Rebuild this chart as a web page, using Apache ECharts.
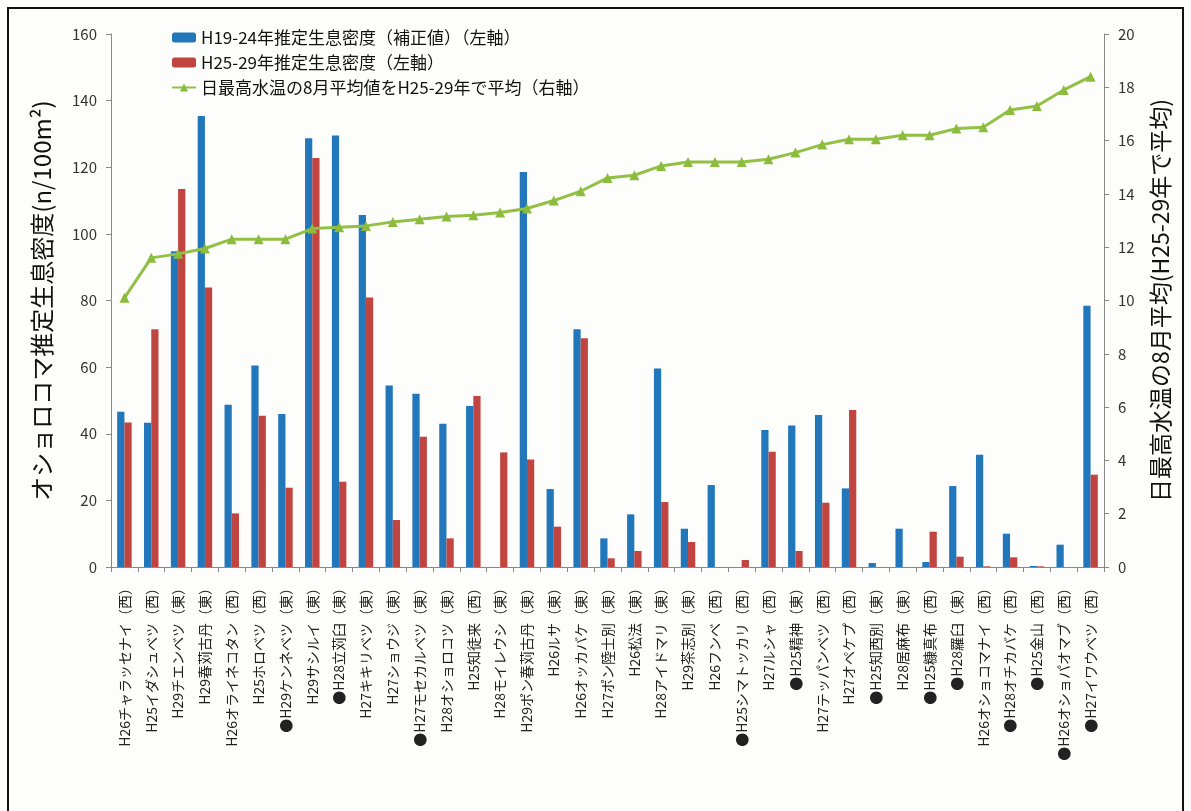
<!DOCTYPE html>
<html><head><meta charset="utf-8">
<script src="https://cdn.jsdelivr.net/npm/echarts@6/dist/echarts.min.js"></script>
<style>html,body{margin:0;padding:0;background:#fff;}#c{width:1191px;height:811px;}</style>
</head><body><div id="c"></div>
<script>
const categories = [
"H26チャラッセナイ（西）","H25イダシュベツ（西）","H29チエンベツ（東）","H29春苅古丹（東）",
"H26オライネコタン（西）","H25ホロベツ（西）","●H29ケンネベツ（東）","H29サシルイ（東）",
"●H28立苅臼（東）","H27キキリベツ（東）","H27ショウジ（東）","●H27モセカルベツ（東）",
"H28オショロコツ（東）","H25知徒来（西）","H28モイレウシ（東）","H29ポン春苅古丹（東）",
"H26ルサ（東）","H26オッカバケ（東）","H27ポン陸士別（東）","H26松法（東）",
"H28アイドマリ（東）","H29茶志別（東）","H26フンベ（西）","●H25シマトッカリ（西）",
"H27ルシャ（西）","●H25精神（東）","H27テッパンベツ（西）","H27オペケプ（西）",
"●H25知西別（東）","H28居麻布（東）","●H25糠真布（西）","●H28羅臼（東）",
"H26オショコマナイ（西）","●H28オチカバケ（西）","●H25金山（西）","●H26オショパオマブ（西）",
"●H27イワウベツ（西）"
];
const density1924 = [46.6,43.3,94.8,135.4,48.7,60.5,45.9,128.7,129.5,105.7,54.5,52.0,43.0,48.3,0,118.6,23.4,71.4,8.6,15.8,59.6,11.5,24.6,0,41.1,42.5,45.6,23.6,1.2,11.5,1.5,24.3,33.7,10.0,0.3,6.7,78.4];
const density2529 = [43.4,71.4,113.5,83.9,16.1,45.4,23.8,122.8,25.6,80.9,14.1,39.1,8.6,51.3,34.4,32.3,12.1,68.7,2.6,4.8,19.5,7.5,0,2.1,34.6,4.8,19.3,47.1,0,0,10.6,3.1,0.2,2.9,0.2,0,27.7];
const waterTemp = [10.1,11.6,11.75,11.95,12.3,12.3,12.3,12.7,12.75,12.8,12.95,13.05,13.15,13.2,13.3,13.45,13.75,14.1,14.6,14.7,15.05,15.2,15.2,15.2,15.3,15.55,15.85,16.05,16.05,16.2,16.2,16.45,16.5,17.15,17.3,17.9,18.4];
const seriesNames = ["H19-24年推定生息密度（補正値）（左軸）","H25-29年推定生息密度（左軸）","日最高水温の8月平均値をH25-29年で平均（右軸）"];
const leftName = "オショロコマ推定生息密度(n/100m²)";
const rightName = "日最高水温の8月平均(H25-29年で平均)";

const FONT = '"Noto Sans CJK JP","Noto Sans",sans-serif';
const chart = echarts.init(document.getElementById('c'));
chart.setOption({
  backgroundColor: '#fdfdfb',
  textStyle: {fontFamily: FONT},
  animation: false,
  graphic: [{type:'rect', shape:{x:8,y:8,width:1175,height:830}, style:{fill:'transparent', stroke:'#111', lineWidth:2}, z:100}],
  legend: {
    orient: 'vertical', left: 166, top: 24, itemGap: 8, itemWidth: 24, itemHeight: 10,
    textStyle: {fontSize: 17, color: '#111', fontFamily: FONT},
    data: seriesNames
  },
  grid: {left: 111, right: 87, top: 34, bottom: 244, containLabel: false},
  xAxis: {
    type: 'category', data: categories,
    axisLine: {lineStyle: {color: '#888'}},
    axisTick: {show: true, inside: false, length: 5, lineStyle: {color: '#888'}},
    axisLabel: {rotate: 90, interval: 0, fontSize: 14, color: '#222', margin: 14, fontFamily: FONT}
  },
  yAxis: [{
    type: 'value', min: 0, max: 160, interval: 20,
    name: leftName, nameLocation: 'middle', nameRotate: 90, nameGap: 57,
    nameTextStyle: {fontSize: 24, color: '#111', fontFamily: FONT},
    axisLine: {show: true, lineStyle: {color: '#888'}},
    axisTick: {show: true, length: 5, lineStyle: {color: '#888'}},
    axisLabel: {fontSize: 15, color: '#333', margin: 14},
    splitLine: {show: false}
  },{
    type: 'value', min: 0, max: 20, interval: 2, position: 'right',
    name: rightName, nameLocation: 'middle', nameRotate: 90, nameGap: 45,
    nameTextStyle: {fontSize: 23, color: '#111', fontFamily: FONT},
    axisLine: {show: true, lineStyle: {color: '#888'}},
    axisTick: {show: true, length: 5, lineStyle: {color: '#888'}},
    axisLabel: {fontSize: 15, color: '#333', margin: 14},
    splitLine: {show: false}
  }],
  series: [
    {name: seriesNames[0], type: 'bar', data: density1924, yAxisIndex: 0, barGap: '0%', barCategoryGap: '46%', itemStyle: {color: '#2277bb'}},
    {name: seriesNames[1], type: 'bar', data: density2529, yAxisIndex: 0, barGap: '0%', barCategoryGap: '46%', itemStyle: {color: '#c0443f'}},
    {name: seriesNames[2], type: 'line', data: waterTemp, yAxisIndex: 1, symbol: 'triangle', symbolSize: 10,
      lineStyle: {color: '#92c045', width: 3}, itemStyle: {color: '#8cbc3e'}}
  ]
});
</script></body></html>
